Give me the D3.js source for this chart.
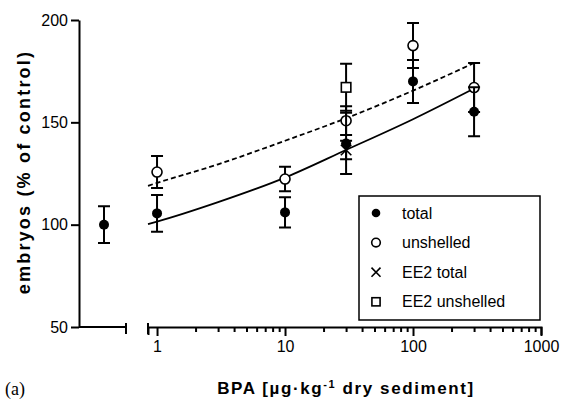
<!DOCTYPE html>
<html>
<head>
<meta charset="utf-8">
<script src="https://cdn.jsdelivr.net/npm/d3@7"></script>
<style>
  body { margin: 0; background: #fff; }
  svg text { font-family: Arial, "Liberation Sans", sans-serif; fill: #000; }
</style>
</head>
<body>
<svg id="chart" width="561" height="402"></svg>
<script>
// data
const doses = [1, 10, 30, 100, 300];
const totalMean = [105.5, 106, 139.7, 170, 155.2];
const totalErr = [9, 7.4, 15, 10.5, 12];
const unshelledMean = [125.7, 122.3, 150.8, 187.5, 167];
const unshelledErr = [7.8, 6, 7, 11, 12];
const ee2Dose = [30];
const ee2TotalMean = [136.5];
const ee2TotalErr = [4.5];
const ee2UnshelledMean = [167.1];
const ee2UnshelledErr = [11.5];
const controlMean = [100];
const controlErr = [9];

// fitted curves
const fitDoses = [0.85, 1, 3, 10, 30, 100, 300];
const fitTotal = [100.3, 101.5, 111, 123, 136.5, 151.5, 166.5];
const fitUnshelled = [119, 120.4, 129.5, 141, 152, 165.5, 179];

const yTicks = [50, 100, 150, 200];
const xMajor = [1, 10, 100, 1000];
const legendLabels = ['total', 'unshelled', 'EE2 total', 'EE2 unshelled'];

const svg = d3.select('#chart');
const capW = 6;
const mr = 5;

const y = d3.scaleLinear().domain([50, 200]).range([327, 20]);
const x = d3.scaleLog().domain([0.85, 1000]).range([148, 541]);
const xc = d3.scalePoint().domain(['control']).range([82, 126]).padding(0.5);

// y axis
const yAxis = svg.append('g')
    .attr('transform', 'translate(79,0)')
    .call(d3.axisLeft(y).tickValues(yTicks).tickSize(8).tickSizeOuter(0).tickPadding(3));
yAxis.selectAll('path, line').attr('stroke', '#000').attr('stroke-width', 2);
yAxis.selectAll('text').style('font-size', '16px');

// control segment of x axis
svg.append('line')
    .attr('x1', 79).attr('x2', xc.range()[1])
    .attr('y1', y(50)).attr('y2', y(50))
    .attr('stroke', '#000').attr('stroke-width', 2);
svg.append('line')
    .attr('x1', xc.range()[1]).attr('x2', xc.range()[1])
    .attr('y1', y(50) - 4).attr('y2', y(50) + 7)
    .attr('stroke', '#000').attr('stroke-width', 2);

// log x axis with minor ticks
let allTicks = [];
[1, 10, 100].forEach(d => d3.range(1, 10).forEach(k => allTicks.push(d * k)));
allTicks.push(1000);
const xAxis = svg.append('g')
    .attr('transform', `translate(0,${y(50)})`)
    .call(d3.axisBottom(x).tickValues(allTicks)
        .tickFormat(d => xMajor.includes(d) ? d : '')
        .tickSizeOuter(0).tickSize(8).tickPadding(6));
xAxis.selectAll('path, line').attr('stroke', '#000').attr('stroke-width', 2);
xAxis.selectAll('.tick line').attr('y2', d => xMajor.includes(d) ? 9 : 5);
xAxis.selectAll('text').style('font-size', '16px');
svg.append('line')
    .attr('x1', x.range()[0]).attr('x2', x.range()[0])
    .attr('y1', y(50) - 4).attr('y2', y(50) + 7)
    .attr('stroke', '#000').attr('stroke-width', 2);

// fit lines
const line = d3.line()
    .x((d, i) => x(fitDoses[i]))
    .y(d => y(d))
    .curve(d3.curveMonotoneX);
svg.append('path').datum(fitUnshelled)
    .attr('d', line).attr('fill', 'none')
    .attr('stroke', '#000').attr('stroke-width', 1.8)
    .attr('stroke-dasharray', '5,3');
svg.append('path').datum(fitTotal)
    .attr('d', line).attr('fill', 'none')
    .attr('stroke', '#000').attr('stroke-width', 1.8);

function errBars(g, xs, means, errs) {
    const data = means.map((m, i) => [xs[i], m, errs[i]]);
    g.selectAll(null).data(data).enter().append('path')
        .attr('d', d => {
            const px = d[0], lo = y(d[1] - d[2]), hi = y(d[1] + d[2]);
            return `M${px},${lo}V${hi}M${px - capW},${hi}H${px + capW}M${px - capW},${lo}H${px + capW}`;
        })
        .attr('fill', 'none').attr('stroke', '#000').attr('stroke-width', 2);
    return data;
}

function drawMarker(g, kind, px, py, s) {
    if (kind === 'filled') {
        g.append('circle').attr('cx', px).attr('cy', py).attr('r', s).attr('fill', '#000');
    } else if (kind === 'open') {
        g.append('circle').attr('cx', px).attr('cy', py).attr('r', s)
            .attr('fill', '#fff').attr('stroke', '#000').attr('stroke-width', 1.6);
    } else if (kind === 'cross') {
        const h = s * 1.05;
        g.append('path').attr('d', `M${px - h},${py - h}L${px + h},${py + h}M${px - h},${py + h}L${px + h},${py - h}`)
            .attr('stroke', '#000').attr('stroke-width', 1.6);
    } else {
        const h = s * 0.95;
        g.append('rect').attr('x', px - h).attr('y', py - h).attr('width', 2 * h).attr('height', 2 * h)
            .attr('fill', '#fff').attr('stroke', '#000').attr('stroke-width', 1.6);
    }
}

function series(kind, dose, means, errs, xs) {
    const g = svg.append('g');
    const px = dose.map(xs);
    errBars(g, px, means, errs);
    means.forEach((m, i) => drawMarker(g, kind, px[i], y(m), mr));
}

series('square', ee2Dose, ee2UnshelledMean, ee2UnshelledErr, x);
series('open', doses, unshelledMean, unshelledErr, x);
series('cross', ee2Dose, ee2TotalMean, ee2TotalErr, x);
series('filled', doses, totalMean, totalErr, x);
series('filled', ['control'], controlMean, controlErr, xc);

// legend
const lg = svg.append('g');
lg.append('rect').attr('x', 359).attr('y', 196).attr('width', 181).attr('height', 124)
    .attr('fill', '#fff').attr('stroke', '#000').attr('stroke-width', 1.5);
const kinds = ['filled', 'open', 'cross', 'square'];
legendLabels.forEach((t, i) => {
    const cy = 213 + i * 29.6;
    drawMarker(lg, kinds[i], 376, cy, 4.3);
    lg.append('text').attr('x', 402).attr('y', cy + 5.5)
        .style('font-size', '16px').text(t);
});

// titles
svg.append('text')
    .attr('transform', 'translate(30,172) rotate(-90)')
    .attr('text-anchor', 'middle')
    .style('font-size', '18px').style('font-weight', 'bold').style('letter-spacing', '2.2px')
    .text('embryos (% of control)');

const xt = svg.append('text')
    .attr('x', 346).attr('y', 394)
    .attr('text-anchor', 'middle')
    .style('font-size', '17px').style('font-weight', 'bold').style('letter-spacing', '1.6px');
xt.append('tspan').text('BPA [\u00b5g\u00b7kg');
xt.append('tspan').attr('dy', -6).style('font-size', '11px').text('-1');
xt.append('tspan').attr('dy', 6).text(' dry sediment]');

svg.append('text')
    .attr('x', 5).attr('y', 395)
    .style('font-family', '"Times New Roman", "Liberation Serif", serif')
    .style('font-size', '18px')
    .text('(a)');
</script>
</body>
</html>
